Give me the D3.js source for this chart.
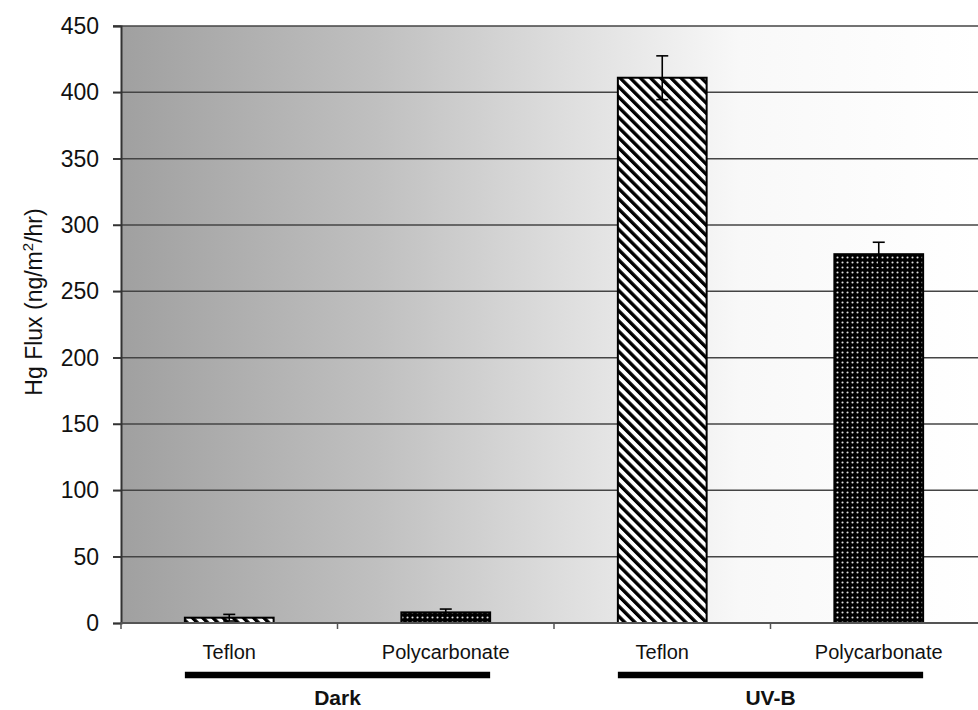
<!DOCTYPE html>
<meta charset="utf-8">
<head>
<style>
body { margin: 0; background: #fff; }
text { font-family: Arial, "Liberation Sans", sans-serif; fill: #111; }
.cat { font-size: 20px; text-anchor: middle; }
.grp { font-size: 21px; font-weight: bold; text-anchor: middle; }
.ytick { font-size: 23px; text-anchor: end; }
</style>
<script src="https://d3js.org/d3.v7.min.js"></script>
</head>
<body>
<svg width="978" height="710"></svg>
<script>

// data
var categories = ["Dark Teflon", "Dark Polycarbonate", "UV-B Teflon", "UV-B Polycarbonate"];
var catLabels = ["Teflon", "Polycarbonate", "Teflon", "Polycarbonate"];
var materials = ["teflon", "poly", "teflon", "poly"];
var fluxValues = [4, 8, 411, 278];
var fluxErrors = [2.5, 2.5, 16.5, 9];
var groups = ["Dark", "UV-B"];
var groupMembers = [[0, 1], [2, 3]];
var yTicks = [0, 50, 100, 150, 200, 250, 300, 350, 400, 450];

var svg = d3.select("svg"),
    plotL = 121, plotR = 987, plotT = 26, plotB = 623;

var x = d3.scaleBand()
    .domain(categories)
    .range([plotL, plotR])
    .padding(0);

var y = d3.scaleLinear()
    .domain([0, 450])
    .range([plotB, plotT]);

var barW = x.bandwidth() * 0.41;

var defs = svg.append("defs");

// background shading, dark at left fading to white
var grad = defs.append("linearGradient")
    .attr("id", "bg")
    .attr("x1", "0%").attr("x2", "100%").attr("y1", "0%").attr("y2", "0%");
grad.append("stop").attr("offset", "0%").attr("stop-color", "#a0a0a0");
grad.append("stop").attr("offset", "30%").attr("stop-color", "#c0c0c0");
grad.append("stop").attr("offset", "55%").attr("stop-color", "#e2e2e2");
grad.append("stop").attr("offset", "72%").attr("stop-color", "#f8f8f8");
grad.append("stop").attr("offset", "100%").attr("stop-color", "#ffffff");

// diagonal hatch for teflon
var hatch = defs.append("pattern")
    .attr("id", "teflon")
    .attr("patternUnits", "userSpaceOnUse")
    .attr("width", 7.2).attr("height", 7.2)
    .attr("patternTransform", "rotate(-45)");
hatch.append("rect").attr("width", 7.2).attr("height", 7.2).attr("fill", "#fff");
hatch.append("rect").attr("x", 0).attr("y", 0).attr("width", 3.4).attr("height", 7.2).attr("fill", "#000");

// dotted black for polycarbonate
var dots = defs.append("pattern")
    .attr("id", "poly")
    .attr("patternUnits", "userSpaceOnUse")
    .attr("width", 5).attr("height", 5);
dots.append("rect").attr("width", 5).attr("height", 5).attr("fill", "#000");
dots.append("circle").attr("cx", 2.5).attr("cy", 2.5).attr("r", 1.05).attr("fill", "#e0e0e0");

svg.append("rect")
    .attr("x", plotL).attr("y", plotT)
    .attr("width", 978 - plotL).attr("height", plotB - plotT)
    .attr("fill", "url(#bg)");

// gridlines
svg.append("g")
  .selectAll("line")
  .data(yTicks.filter(function(d) { return d > 0; }))
  .enter().append("line")
    .attr("x1", plotL - 8).attr("x2", 978)
    .attr("y1", function(d) { return y(d); })
    .attr("y2", function(d) { return y(d); })
    .attr("stroke", "#444")
    .attr("stroke-width", 1.5);

// bars
svg.append("g")
  .selectAll("rect")
  .data(categories)
  .enter().append("rect")
    .attr("x", function(d) { return x(d) + x.bandwidth() / 2 - barW / 2; })
    .attr("y", function(d, i) { return y(fluxValues[i]); })
    .attr("width", barW)
    .attr("height", function(d, i) { return y(0) - y(fluxValues[i]); })
    .attr("fill", function(d, i) { return "url(#" + materials[i] + ")"; })
    .attr("stroke", "#000")
    .attr("stroke-width", 2);

// error bars
var err = svg.append("g")
  .selectAll("g")
  .data(categories)
  .enter().append("g")
    .attr("stroke", "#000")
    .attr("stroke-width", 1.6);
err.append("line")
    .attr("x1", function(d) { return x(d) + x.bandwidth() / 2; })
    .attr("x2", function(d) { return x(d) + x.bandwidth() / 2; })
    .attr("y1", function(d, i) { return y(fluxValues[i] - fluxErrors[i]); })
    .attr("y2", function(d, i) { return y(fluxValues[i] + fluxErrors[i]); });
err.selectAll(".cap")
  .data(function(d, i) { return [[d, fluxValues[i] + fluxErrors[i]], [d, fluxValues[i] - fluxErrors[i]]]; })
  .enter().append("line")
    .attr("class", "cap")
    .attr("x1", function(d) { return x(d[0]) + x.bandwidth() / 2 - 6; })
    .attr("x2", function(d) { return x(d[0]) + x.bandwidth() / 2 + 6; })
    .attr("y1", function(d) { return y(d[1]); })
    .attr("y2", function(d) { return y(d[1]); });

// y axis
var yAxis = svg.append("g")
    .attr("transform", "translate(" + plotL + ",0)")
    .call(d3.axisLeft(y).tickValues(yTicks).tickSize(8).tickPadding(14));
yAxis.attr("font-size", null).attr("font-family", null);
yAxis.select(".domain").attr("stroke", "#333").attr("stroke-width", 2);
yAxis.selectAll(".tick line").attr("stroke", "#333").attr("stroke-width", 1.5);
yAxis.selectAll(".tick text")
    .attr("class", "ytick")
    .attr("fill", "#111");

// x axis line with category boundary ticks
svg.append("line")
    .attr("x1", plotL).attr("x2", 978)
    .attr("y1", plotB).attr("y2", plotB)
    .attr("stroke", "#555").attr("stroke-width", 2);
svg.append("g")
  .selectAll("line")
  .data(categories)
  .enter().append("line")
    .attr("x1", function(d) { return x(d); })
    .attr("x2", function(d) { return x(d); })
    .attr("y1", plotB)
    .attr("y2", plotB + 6)
    .attr("stroke", "#555").attr("stroke-width", 1.5);

// category labels
svg.append("g")
  .selectAll("text")
  .data(categories)
  .enter().append("text")
    .attr("class", "cat")
    .attr("x", function(d) { return x(d) + x.bandwidth() / 2; })
    .attr("y", 659)
    .text(function(d, i) { return catLabels[i]; });

// group bars and labels
var grp = svg.append("g")
  .selectAll("g")
  .data(groups)
  .enter().append("g");
grp.append("line")
    .attr("x1", function(d, i) { return x(categories[groupMembers[i][0]]) + x.bandwidth() / 2 - barW / 2; })
    .attr("x2", function(d, i) { return x(categories[groupMembers[i][1]]) + x.bandwidth() / 2 + barW / 2; })
    .attr("y1", 675).attr("y2", 675)
    .attr("stroke", "#000")
    .attr("stroke-width", 6.5);
grp.append("text")
    .attr("class", "grp")
    .attr("x", function(d, i) { return x(categories[groupMembers[i][1]]); })
    .attr("y", 705)
    .text(function(d) { return d; });

// y axis title
var yt = svg.append("text")
    .attr("transform", "translate(42,302) rotate(-90)")
    .attr("text-anchor", "middle")
    .attr("font-size", 23);
yt.append("tspan").text("Hg Flux (ng/m");
yt.append("tspan").attr("dy", -9).attr("font-size", 15).text("2");
yt.append("tspan").attr("dy", 9).text("/hr)");

</script>
</body>
